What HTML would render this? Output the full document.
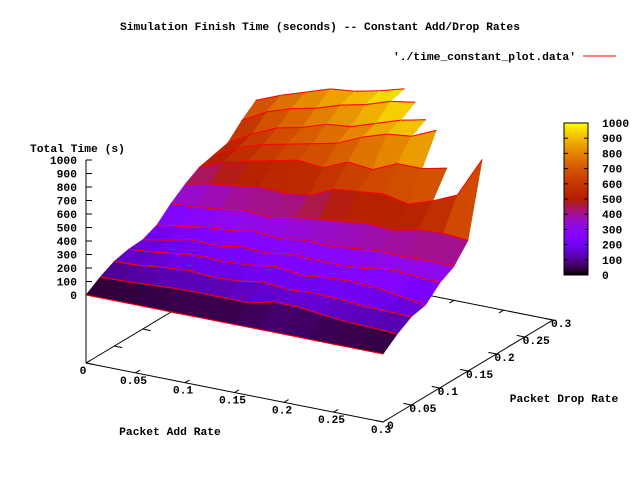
<!DOCTYPE html>
<html><head><meta charset="utf-8"><style>
html,body{margin:0;padding:0;background:#fff}
svg{display:block}
text{font-family:"Liberation Mono",monospace;font-weight:bold;font-size:11.3px;fill:#000}
</style></head><body>
<svg id="chart" width="640" height="480" viewBox="0 0 640 480" xmlns="http://www.w3.org/2000/svg">
<rect width="640" height="480" fill="#fff"/>
<text x="320" y="30" text-anchor="middle">Simulation Finish Time (seconds) -- Constant Add/Drop Rates</text>
<g>
<text x="576" y="60" text-anchor="end">'./time_constant_plot.data'</text>
<line x1="583" y1="56" x2="616" y2="56" stroke="#f00" stroke-width="1"/>
</g>
<text x="30" y="152">Total Time (s)</text>
<text x="170" y="435" text-anchor="middle">Packet Add Rate</text>
<text x="564" y="402" text-anchor="middle">Packet Drop Rate</text>
<g id="base"></g>
<g id="surf"></g>
<g id="cb"></g>
</svg>
<script>
const addRates = [0,0.025,0.05,0.075,0.1,0.125,0.15,0.175,0.2,0.225,0.25,0.275,0.3];
const dropRates = [0,0.025,0.05,0.075,0.1,0.125,0.15,0.175,0.2,0.225,0.25,0.275,0.3];
const timeRows = [
[0,0,0,0,0,0,0,0,0,0,0,0,0],
[70,75,85,95,98,97,96,140,140,117,100,95,85],
[124,130,150,165,150,160,190,170,180,175,160,155,150],
[150,165,190,205,200,215,240,210,230,240,230,200,174],
[158,190,230,220,250,240,270,260,260,270,300,290,274],
[203,230,260,270,300,280,310,300,320,340,330,340,333],
[300,310,330,360,340,380,400,420,440,430,470,480,464],
[380,420,440,470,460,480,560,580,600,560,620,700,1000],
[443,520,560,600,640,620,700,680,760,760,800,1100,1100],
[470,560,620,660,700,740,820,880,900,980,1100,1100,1100],
[496,600,680,720,780,800,860,920,960,1100,1100,1100,1100],
[600,700,760,800,860,900,960,990,1100,1100,1100,1100,1100],
[687,760,820,880,900,940,990,1100,1100,1100,1100,1100,1100]
];
const xTicks = [0,0.05,0.1,0.15,0.2,0.25,0.3];
const xTickLabels = ["0","0.05","0.1","0.15","0.2","0.25","0.3"];
const yTicks = [0,0.05,0.1,0.15,0.2,0.25,0.3];
const yTickLabels = ["0","0.05","0.1","0.15","0.2","0.25","0.3"];
const zTicks = [0,100,200,300,400,500,600,700,800,900,1000];
const ZMAX = 1000;

const NS="http://www.w3.org/2000/svg";
function mk(tag,attrs,parent){const e=document.createElementNS(NS,tag);for(const k in attrs)e.setAttribute(k,attrs[k]);parent.appendChild(e);return e;}
function proj(x,y,z){
  return [86+297*(x/0.3)+170*(y/0.3), 363+59*(x/0.3)-102*(y/0.3)-68-0.135*z];
}
function base(x,y){return [86+297*(x/0.3)+170*(y/0.3), 363+59*(x/0.3)-102*(y/0.3)];}
function pal(t){t=Math.max(0,Math.min(1,t));
  const r=Math.sqrt(t),g=t*t*t,b=Math.max(0,Math.sin(2*Math.PI*t));
  return `rgb(${Math.round(r*255)},${Math.round(g*255)},${Math.round(b*255)})`;}

const bg=document.getElementById('base');
const c0=base(0,0),c1=base(0.3,0),c2=base(0.3,0.3),c3=base(0,0.3);
[[c0,c1,'x-axis-line'],[c1,c2,'y-axis-line'],[c2,c3,'back-x-edge'],[c3,c0,'back-y-edge']].forEach(s=>{
  const l=mk('line',{x1:s[0][0],y1:s[0][1],x2:s[1][0],y2:s[1][1],stroke:'#000','stroke-width':1},bg);
  
  
});
const za=mk('line',{x1:86,y1:363,x2:86,y2:160,stroke:'#000','stroke-width':1},bg);


xTicks.forEach((v,i)=>{
  const a=base(v,0),b=base(v,0.008),a2=base(v,0.3),b2=base(v,0.292);
  const t=mk('line',{x1:a[0],y1:a[1],x2:b[0],y2:b[1],stroke:'#000'},bg);
  
  
  const t2=mk('line',{x1:a2[0],y1:a2[1],x2:b2[0],y2:b2[1],stroke:'#000'},bg);
  
  
  const lb=mk('text',{x:a[0]-(i==0?3:2),y:a[1]+11,'text-anchor':'middle'},bg);
  lb.textContent=xTickLabels[i];
  
  
});
yTicks.forEach((v,i)=>{
  const a=base(0.3,v),b=base(0.292,v),a2=base(0,v),b2=base(0.008,v);
  const t=mk('line',{x1:a[0],y1:a[1],x2:b[0],y2:b[1],stroke:'#000'},bg);
  
  
  const t2=mk('line',{x1:a2[0],y1:a2[1],x2:b2[0],y2:b2[1],stroke:'#000'},bg);
  
  
  const lb=mk('text',{x:a[0]+(i==0?4:-2),y:a[1]+7},bg);
  lb.textContent=yTickLabels[i];
  
  
});
zTicks.forEach(v=>{
  const p=proj(0,0,v);
  const t=mk('line',{x1:86,y1:p[1],x2:92,y2:p[1],stroke:'#000'},bg);
  
  
  const lb=mk('text',{x:77,y:p[1]+4,'text-anchor':'end'},bg);
  lb.textContent=String(v);
  
  
});

const sg=document.getElementById('surf');
const nR=dropRates.length,nC=addRates.length;
const quads=[];
for(let k=0;k<nR-1;k++)for(let c=0;c<nC-1;c++)quads.push([k,c]);
quads.sort((p,q)=>(q[0]*0.866-q[1]*0.5)-(p[0]*0.866-p[1]*0.5));
function P(k,c){return [addRates[c],dropRates[k],timeRows[k][c]];}
function drawRowSeg(k,c){
  const A=P(k,c),B=P(k,c+1);
  if(A[2]>ZMAX||B[2]>ZMAX)return;
  const a=proj(...A),b=proj(...B);
  const l=mk('line',{x1:a[0].toFixed(1),y1:a[1].toFixed(1),x2:b[0].toFixed(1),y2:b[1].toFixed(1),stroke:'#f00','stroke-width':1},sg);
  
  
}
quads.forEach(([k,c])=>{
  const pts=[P(k,c),P(k,c+1),P(k+1,c+1),P(k+1,c)];
  if(pts.some(p=>p[2]>ZMAX)){drawRowSeg(k,c);return;}
  const avg=(pts[0][2]+pts[1][2]+pts[2][2]+pts[3][2])/4;
  const s=pts.map(p=>proj(...p).map(v=>v.toFixed(1)).join(',')).join(' ');
  const col=pal(avg/ZMAX);
  const pg=mk('polygon',{points:s,fill:col,stroke:col,'stroke-width':0.6},sg);
  
  
  drawRowSeg(k,c);drawRowSeg(k+1,c);
});

const cb=document.getElementById('cb');
const defs=mk('defs',{},cb);
const grad=mk('linearGradient',{id:'cbg',x1:0,y1:1,x2:0,y2:0},defs);
for(let i=0;i<=20;i++){mk('stop',{offset:i/20,'stop-color':pal(i/20)},grad);}
const cr=mk('rect',{x:564,y:123,width:24,height:152,fill:'url(#cbg)',stroke:'#000','stroke-width':1},cb);


zTicks.forEach(v=>{
  const y=275-152*v/ZMAX;
  const t=mk('line',{x1:564,y1:y,x2:568,y2:y,stroke:'#000'},cb);
  
  
  const t2=mk('line',{x1:584,y1:y,x2:588,y2:y,stroke:'#000'},cb);
  
  
  const lb=mk('text',{x:602,y:y+4},cb);
  lb.textContent=String(v);
  
  
});
</script>
</body></html>
